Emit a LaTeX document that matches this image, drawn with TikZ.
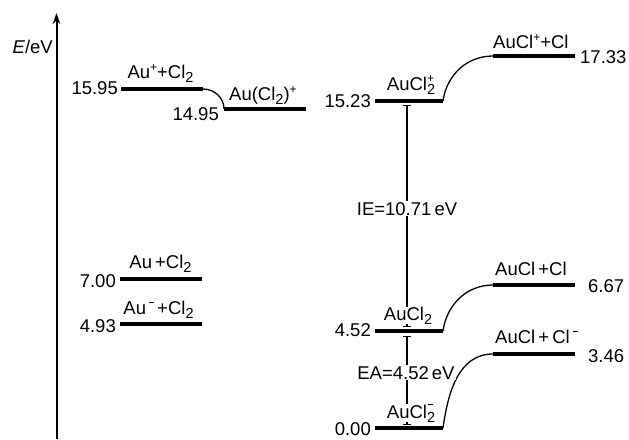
\documentclass[tikz,border=0pt]{standalone}
\usepackage{fontspec}
\setmainfont{Liberation Sans}
\usetikzlibrary{arrows.meta}
\newcommand{\mysup}[1]{\raisebox{0.65ex}{\fontsize{12}{12}\selectfont #1}}
\newcommand{\mysub}[1]{\raisebox{-0.45ex}{\fontsize{14.5}{14.5}\selectfont #1}}
\newcommand{\mysupsub}[2]{\rlap{\raisebox{0.8ex}{\fontsize{12}{12}\selectfont #1}}\mysub{#2}}
\newcommand{\mymin}{\raisebox{11pt}{\rule{5pt}{1.4pt}}}
\newcommand{\mysubmin}[1]{\rlap{\hspace{1pt}\raisebox{13pt}{\rule{5pt}{1.4pt}}}\mysub{#1}}
\begin{document}
\begin{tikzpicture}[x=1pt,y=-1pt,
  font=\fontsize{18.5}{21}\selectfont,
  lvl/.style={line width=3.3pt},
  link/.style={line width=1.3pt},
  gap/.style={line width=1.2pt,{Bar[width=8pt]}-{Bar[width=8pt]}},
  lbl/.style={inner sep=0pt,anchor=base},
  lblw/.style={inner sep=0pt,anchor=base west},
  nume/.style={inner sep=0pt,anchor=base east},
  numw/.style={inner sep=0pt,anchor=base west},
  cover/.style={inner sep=1pt,fill=white,anchor=base}]
\useasboundingbox (0,0) rectangle (629,439);
% axis
\coordinate (ax0) at (56.5,439);
\coordinate (ax1) at (56.5,13);
\draw[line width=2pt,-{Stealth[length=11pt,width=7.5pt]}] (ax0) -- (ax1);
\node[nume] (Elab) at (53,53) {\textit{E}/eV};
% level end points
\coordinate (a1) at (121,89);  \coordinate (a2) at (203,89);
\coordinate (b1) at (224,109); \coordinate (b2) at (306,109);
\coordinate (c1) at (375,101); \coordinate (c2) at (443,101);
\coordinate (d1) at (493,56);  \coordinate (d2) at (575,56);
\coordinate (e1) at (120,279); \coordinate (e2) at (202,279);
\coordinate (f1) at (120,324); \coordinate (f2) at (202,324);
\coordinate (g1) at (375,331); \coordinate (g2) at (443,331);
\coordinate (h1) at (493,285); \coordinate (h2) at (575,285);
\coordinate (i1) at (493,354); \coordinate (i2) at (575,354);
\coordinate (j1) at (375,428); \coordinate (j2) at (443,428);
% levels
\draw[lvl] (a1) -- (a2);
\draw[lvl] (b1) -- (b2);
\draw[lvl] (c1) -- (c2);
\draw[lvl] (d1) -- (d2);
\draw[lvl] (e1) -- (e2);
\draw[lvl] (f1) -- (f2);
\draw[lvl] (g1) -- (g2);
\draw[lvl] (h1) -- (h2);
\draw[lvl] (i1) -- (i2);
\draw[lvl] (j1) -- (j2);
% links
\draw[link] (a2) to[out=0,in=90] (b1);
\draw[link] (c2) to[out=82,in=180] (d1);
\draw[link] (g2) to[out=82,in=180] (h1);
\draw[link] (j2) to[out=82,in=180] (i1);
% gaps
\coordinate (ie0) at (407,105); \coordinate (ie1) at (407,327);
\coordinate (ea0) at (407,336); \coordinate (ea1) at (407,425);
\draw[gap] (ie0) -- (ie1);
\draw[gap] (ea0) -- (ea1);
% labels
\node[lbl] (Lauc) at (160.5,78) {Au\mysup{+}+Cl\mysub{2}};
\node[lblw] (Lauclc) at (229,100) {Au(Cl\mysub{2})\mysup{+}};
\node[lbl] (Lcl2c) at (411,90) {AuCl\mysupsub{+}{2}};
\node[lblw] (Lauclp) at (493,48) {AuCl\mysup{+}+Cl};
\node[cover] (Lie) at (407,215) {IE=10.71\,eV};
\node[lbl] (Lau) at (160.5,268) {Au\,+Cl\mysub{2}};
\node[lbl] (Lau-) at (158.5,314) {Au\,\mymin\,+Cl\mysub{2}};
\node[lblw] (Laucl) at (495,275) {AuCl\,+Cl};
\node[cover,inner sep=0pt] (Lcl2) at (408,320) {AuCl\mysub{2}};
\node[lblw] (Laucla) at (495,343) {AuCl\,+\,Cl\,\mymin};
\node[cover] (Lea) at (406,379) {EA=4.52\,eV};
\node[cover,inner sep=0pt] (Lcl2a) at (411,418) {AuCl\mysubmin{2}};
% numbers
\node[nume] (n1) at (118,94) {15.95};
\node[nume] (n2) at (219,120) {14.95};
\node[nume] (n3) at (371,107) {15.23};
\node[numw] (n4) at (580,63) {17.33};
\node[nume] (n5) at (116,287) {7.00};
\node[nume] (n6) at (116,332) {4.93};
\node[nume] (n7) at (371,336) {4.52};
\node[numw] (n8) at (588,292) {6.67};
\node[numw] (n9) at (588,362) {3.46};
\node[nume] (n10) at (371,435) {0.00};
\end{tikzpicture}
\end{document}
